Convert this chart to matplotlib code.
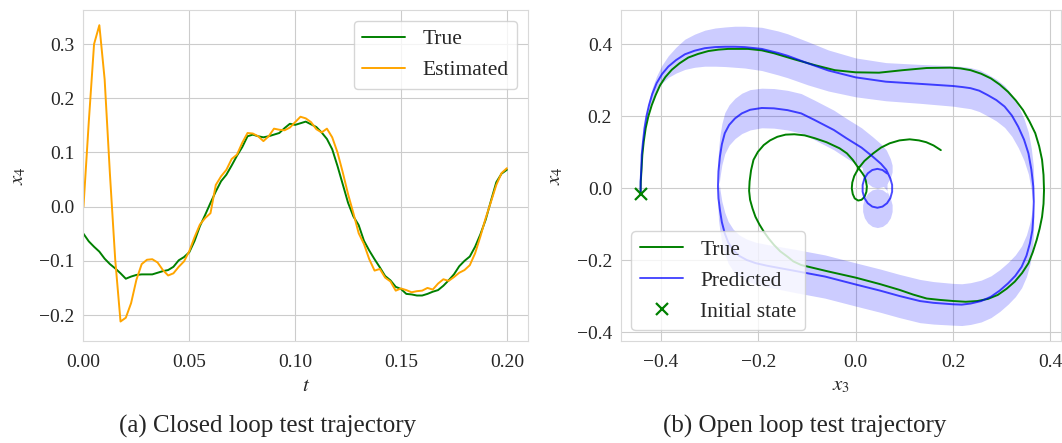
import numpy as np
import matplotlib
matplotlib.use("Agg")
import matplotlib.pyplot as plt
import seaborn as sns

# closed loop run: state x4 over time, true vs. observer estimate
t = np.linspace(0, 0.2, 81)
x4_true = [-0.050, -0.064, -0.074, -0.083, -0.096, -0.106, -0.114, -0.123, -0.133, -0.129,
           -0.126, -0.125, -0.125, -0.125, -0.122, -0.119, -0.117, -0.111, -0.099, -0.093,
           -0.084, -0.063, -0.036, -0.015, 0.007, 0.028, 0.047, 0.059, 0.076, 0.094,
           0.110, 0.130, 0.133, 0.130, 0.128, 0.130, 0.133, 0.136, 0.145, 0.153,
           0.151, 0.154, 0.157, 0.152, 0.147, 0.137, 0.125, 0.106, 0.075, 0.041,
           0.007, -0.018, -0.034, -0.063, -0.081, -0.097, -0.112, -0.128, -0.136, -0.148,
           -0.152, -0.161, -0.162, -0.164, -0.164, -0.161, -0.157, -0.154, -0.146, -0.136,
           -0.125, -0.110, -0.100, -0.092, -0.074, -0.051, -0.024, 0.011, 0.045, 0.061,
           0.068]
x4_est = [0.000, 0.156, 0.300, 0.335, 0.235, 0.060, -0.098, -0.212, -0.205, -0.178,
          -0.135, -0.106, -0.098, -0.097, -0.103, -0.117, -0.127, -0.123, -0.111, -0.101,
          -0.082, -0.056, -0.033, -0.021, -0.012, 0.040, 0.056, 0.068, 0.088, 0.096,
          0.118, 0.136, 0.135, 0.130, 0.121, 0.130, 0.144, 0.142, 0.141, 0.146,
          0.156, 0.166, 0.163, 0.156, 0.143, 0.137, 0.144, 0.128, 0.100, 0.063,
          0.023, -0.012, -0.049, -0.069, -0.097, -0.118, -0.115, -0.131, -0.138, -0.155,
          -0.151, -0.154, -0.158, -0.156, -0.155, -0.150, -0.153, -0.142, -0.134, -0.137,
          -0.130, -0.122, -0.117, -0.108, -0.086, -0.055, -0.021, 0.009, 0.040, 0.062,
          0.071]

# open loop run in the (x3, x4) plane
x3_true = [-0.442, -0.4415, -0.440, -0.4384, -0.4355, -0.4315, -0.426, -0.419, -0.411, -0.402,
           -0.391, -0.378, -0.362, -0.344, -0.324, -0.303, -0.282, -0.262, -0.221, -0.193,
           -0.168, -0.126, -0.084, -0.043, 0.0, 0.048, 0.097, 0.146, 0.194, 0.215,
           0.236, 0.258, 0.278, 0.296, 0.313, 0.329, 0.344, 0.357, 0.369, 0.377,
           0.383, 0.386, 0.387, 0.386, 0.383, 0.378, 0.372, 0.364, 0.355, 0.342,
           0.327, 0.310, 0.292, 0.272, 0.250, 0.226, 0.201, 0.174, 0.146, 0.118,
           0.090, 0.050, 0.0, -0.056, -0.112, -0.128, -0.140, -0.155, -0.168, -0.179,
           -0.189, -0.198, -0.206, -0.212, -0.217, -0.219, -0.218, -0.215, -0.210, -0.201,
           -0.189, -0.176, -0.161, -0.144, -0.126, -0.105, -0.084, -0.060, -0.033, -0.018,
           -0.006, 0.006, 0.0136, 0.018, 0.021, 0.023, 0.022, 0.018, 0.012, 0.005,
           -0.002, -0.006, -0.008, -0.007, -0.003, 0.006, 0.018, 0.036, 0.052, 0.070,
           0.090, 0.111, 0.130, 0.145, 0.160, 0.175]
x4_true_ol = [-0.016, 0.020, 0.055, 0.0925, 0.130, 0.167, 0.200, 0.231, 0.259, 0.286,
              0.309, 0.329, 0.347, 0.363, 0.373, 0.381, 0.385, 0.387, 0.387, 0.383,
              0.375, 0.358, 0.342, 0.328, 0.322, 0.321, 0.328, 0.334, 0.335, 0.333,
              0.328, 0.318, 0.305, 0.288, 0.268, 0.244, 0.217, 0.186, 0.153, 0.117,
              0.079, 0.037, -0.005, -0.043, -0.079, -0.112, -0.143, -0.177, -0.208, -0.235,
              -0.259, -0.279, -0.296, -0.307, -0.313, -0.315, -0.313, -0.310, -0.306, -0.295,
              -0.282, -0.266, -0.248, -0.231, -0.213, -0.203, -0.190, -0.175, -0.157, -0.139,
              -0.120, -0.100, -0.079, -0.056, -0.032, -0.007, 0.019, 0.050, 0.079, 0.101,
              0.120, 0.133, 0.143, 0.149, 0.150, 0.147, 0.139, 0.128, 0.111, 0.097,
              0.079, 0.056, 0.042, 0.033, 0.020, 0.005, -0.010, -0.024, -0.032, -0.034,
              -0.028, -0.016, 0.0, 0.016, 0.034, 0.056, 0.076, 0.097, 0.113, 0.125,
              0.133, 0.136, 0.133, 0.128, 0.119, 0.106]

x3_pred = [-0.442, -0.442, -0.4405, -0.4397, -0.437, -0.434, -0.430, -0.4247, -0.418, -0.409,
           -0.398, -0.385, -0.369, -0.351, -0.331, -0.310, -0.289, -0.268, -0.248, -0.228,
           -0.193, -0.160, -0.140, -0.098, -0.056, 0.0, 0.062, 0.132, 0.200, 0.220,
           0.236, 0.254, 0.271, 0.289, 0.306, 0.321, 0.334, 0.346, 0.355, 0.361,
           0.365, 0.366, 0.365, 0.363, 0.358, 0.351, 0.341, 0.328, 0.313, 0.296,
           0.278, 0.258, 0.236, 0.218, 0.200, 0.160, 0.132, 0.090, 0.050, 0.0,
           -0.063, -0.126, -0.182, -0.205, -0.224, -0.240, -0.252, -0.262, -0.269, -0.275,
           -0.279, -0.282, -0.283, -0.282, -0.279, -0.275, -0.269, -0.260, -0.248, -0.234,
           -0.217, -0.193, -0.168, -0.140, -0.112, -0.085, -0.045, -0.019, 0.012, 0.035,
           0.052, 0.063, 0.0713, 0.0749, 0.0749, 0.0713, 0.0644, 0.0551, 0.0446, 0.0341,
           0.0248, 0.0179, 0.0143, 0.0143, 0.0179, 0.0248, 0.0341, 0.0446, 0.0551, 0.0644]
x4_pred = [-0.016, 0.018, 0.055, 0.0925, 0.130, 0.167, 0.200, 0.231, 0.262, 0.292,
           0.317, 0.338, 0.356, 0.372, 0.382, 0.389, 0.392, 0.393, 0.393, 0.392,
           0.387, 0.376, 0.368, 0.347, 0.327, 0.308, 0.296, 0.290, 0.284, 0.281,
           0.278, 0.271, 0.259, 0.245, 0.227, 0.202, 0.171, 0.135, 0.097, 0.052,
           0.005, -0.037, -0.079, -0.117, -0.153, -0.187, -0.218, -0.243, -0.264, -0.284,
           -0.301, -0.313, -0.320, -0.323, -0.322, -0.318, -0.313, -0.299, -0.284, -0.267,
           -0.245, -0.229, -0.215, -0.208, -0.199, -0.187, -0.171, -0.150, -0.125, -0.094,
           -0.060, -0.028, 0.005, 0.047, 0.088, 0.122, 0.153, 0.176, 0.194, 0.208,
           0.218, 0.223, 0.222, 0.217, 0.208, 0.190, 0.162, 0.139, 0.113, 0.088,
           0.068, 0.051, 0.027, 0.0094, -0.0094, -0.027, -0.0414, -0.0508, -0.054, -0.0508,
           -0.0414, -0.027, -0.0094, 0.0094, 0.027, 0.0414, 0.0508, 0.054, 0.0508, 0.0414]
x4_pred_std = [0.0, 0.002, 0.004, 0.006, 0.008, 0.010, 0.012, 0.014, 0.017, 0.020,
               0.025, 0.030, 0.036, 0.042, 0.046, 0.050, 0.053, 0.055, 0.057, 0.058,
               0.060, 0.061, 0.061, 0.060, 0.057, 0.054, 0.053, 0.054, 0.056, 0.057,
               0.057, 0.058, 0.058, 0.058, 0.058, 0.058, 0.058, 0.058, 0.058, 0.058,
               0.058, 0.058, 0.058, 0.058, 0.058, 0.058, 0.058, 0.058, 0.058, 0.058,
               0.058, 0.058, 0.058, 0.058, 0.058, 0.059, 0.060, 0.060, 0.060, 0.060,
               0.060, 0.060, 0.059, 0.058, 0.058, 0.058, 0.058, 0.058, 0.058, 0.058,
               0.058, 0.058, 0.058, 0.058, 0.058, 0.057, 0.057, 0.056, 0.056, 0.056,
               0.056, 0.055, 0.055, 0.055, 0.055, 0.055, 0.055, 0.055, 0.055, 0.055,
               0.055, 0.055, 0.055, 0.055, 0.055, 0.055, 0.055, 0.055, 0.055, 0.055,
               0.055, 0.055, 0.055, 0.055, 0.055, 0.055, 0.055, 0.055, 0.055, 0.055]

sns.set_style("whitegrid")
plt.rcParams["font.family"] = ["Liberation Serif", "DejaVu Serif"]
plt.rcParams["mathtext.fontset"] = "stix"

fig = plt.figure(figsize=(10.62, 4.43), dpi=100)
ax1 = fig.add_axes([0.0786, 0.2302, 0.4186, 0.7472])
ax2 = fig.add_axes([0.5844, 0.2302, 0.4147, 0.7472])

ax1.plot(t, x4_true, color="green", lw=1.4, label="True")
ax1.plot(t, x4_est, color="orange", lw=1.4, label="Estimated")
ax1.set_xlim(0, 0.21)
ax1.set_ylim(-0.248, 0.363)
ax1.set_xticks([0, 0.05, 0.10, 0.15, 0.20])
ax1.set_xticklabels(["0.00", "0.05", "0.10", "0.15", "0.20"])
ax1.set_yticks([-0.2, -0.1, 0.0, 0.1, 0.2, 0.3])
ax1.set_xlabel("$t$", fontsize=15)
ax1.set_ylabel("$x_4$", fontsize=15, labelpad=8)
ax1.legend(loc="upper right", fontsize=15.5)

x3_pred = np.array(x3_pred)
x4_pred = np.array(x4_pred)
x4_pred_std = np.array(x4_pred_std)
# one-sigma band of the prediction, offset along x4
ax2.fill_between(x3_pred, x4_pred - x4_pred_std, x4_pred + x4_pred_std,
                 color="blue", alpha=0.2, lw=0)
ax2.plot(x3_true, x4_true_ol, color="green", lw=1.4, label="True")
ax2.plot(x3_pred, x4_pred, color="blue", alpha=0.7, lw=1.4, label="Predicted")
ax2.plot(x3_true[0], x4_true_ol[0], "x", color="green", ms=9, mew=1.6,
         label="Initial state", zorder=5)
ax2.set_xlim(-0.483, 0.422)
ax2.set_ylim(-0.424, 0.495)
ax2.set_xticks([-0.4, -0.2, 0.0, 0.2, 0.4])
ax2.set_yticks([-0.4, -0.2, 0.0, 0.2, 0.4])
ax2.set_xlabel("$x_3$", fontsize=15)
ax2.set_ylabel("$x_4$", fontsize=15, labelpad=8)
ax2.legend(loc="lower left", fontsize=15.5)

for ax in (ax1, ax2):
    ax.tick_params(axis="x", labelsize=14, pad=6)
    ax.tick_params(axis="y", labelsize=14, pad=2.7)
    for s in ax.spines.values():
        s.set_color("0.85")

fig.text(0.252, 0.038, "(a) Closed loop test trajectory", ha="center", va="center", fontsize=18)
fig.text(0.7575, 0.038, "(b) Open loop test trajectory", ha="center", va="center", fontsize=18)

fig.savefig("out.png", dpi=100)
